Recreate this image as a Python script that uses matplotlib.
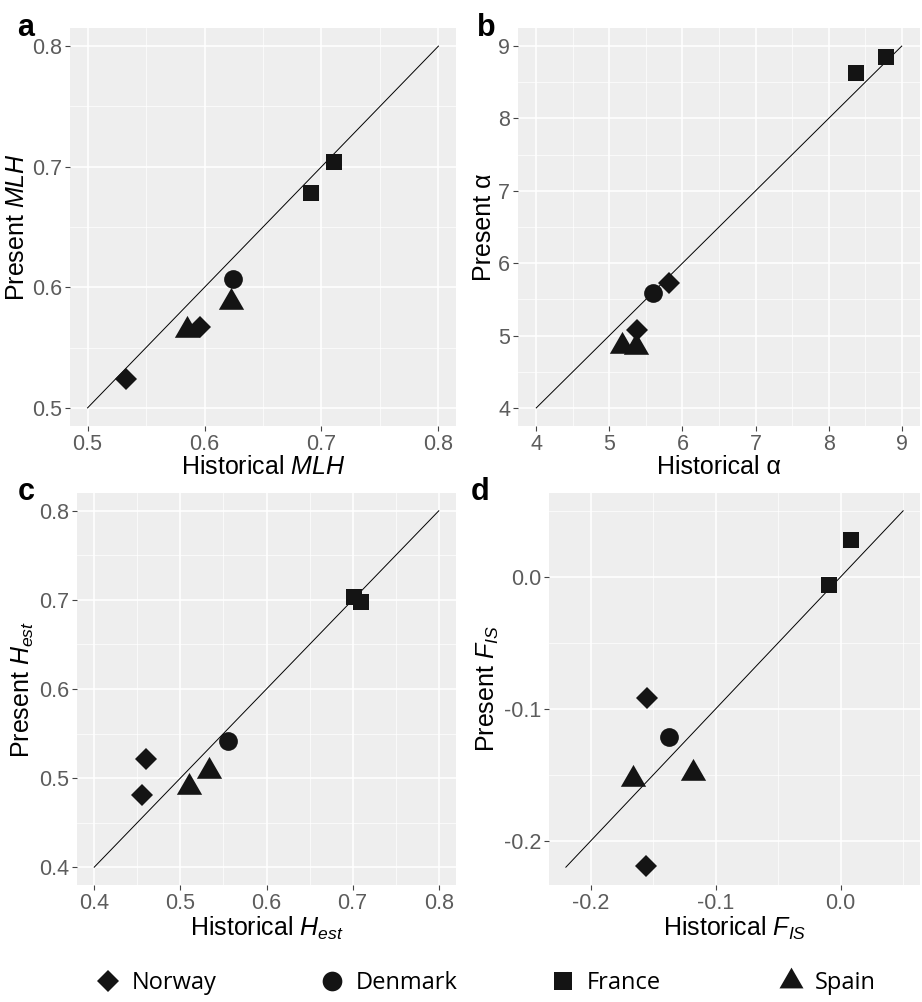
import matplotlib
matplotlib.use("Agg")
import matplotlib.pyplot as plt
from matplotlib.lines import Line2D
from matplotlib.path import Path
import numpy as np

plt.rcParams['font.family'] = ['Liberation Sans', 'DejaVu Sans']
plt.rcParams['mathtext.fontset'] = 'custom'
plt.rcParams['mathtext.rm'] = 'Liberation Sans'
plt.rcParams['mathtext.it'] = 'Liberation Sans:italic'
plt.rcParams['mathtext.bf'] = 'Liberation Sans:bold'

# ---------------- data ----------------
countries = ['Norway', 'Denmark', 'France', 'Spain']

mlh_country = ['Norway', 'Norway', 'Denmark', 'France', 'France', 'Spain', 'Spain']
mlh_hist = [0.533, 0.596, 0.624, 0.691, 0.7105, 0.585, 0.623]
mlh_pres = [0.524, 0.567, 0.607, 0.678, 0.7035, 0.565, 0.588]

alpha_country = ['Norway', 'Norway', 'Denmark', 'France', 'France', 'Spain', 'Spain']
alpha_hist = [5.81, 5.38, 5.595, 8.37, 8.79, 5.17, 5.37]
alpha_pres = [5.72, 5.07, 5.59, 8.63, 8.85, 4.86, 4.84]

hest_country = ['Norway', 'Norway', 'Denmark', 'France', 'France', 'Spain', 'Spain']
hest_hist = [0.460, 0.456, 0.555, 0.702, 0.710, 0.510, 0.533]
hest_pres = [0.521, 0.481, 0.542, 0.703, 0.698, 0.490, 0.508]

fis_country = ['Norway', 'Norway', 'Denmark', 'France', 'France', 'Spain', 'Spain']
fis_hist = [-0.155, -0.156, -0.1376, 0.0083, -0.0097, -0.1665, -0.118]
fis_pres = [-0.092, -0.219, -0.121, 0.028, -0.0063, -0.153, -0.1486]

# 1:1 reference segment ranges
mlh_range = [0.5, 0.8]
alpha_range = [4, 9]
hest_range = [0.4, 0.8]
fis_range = [-0.22, 0.05]

mlh_ticks = [0.5, 0.6, 0.7, 0.8]
alpha_ticks = [4, 5, 6, 7, 8, 9]
hest_ticks = [0.4, 0.5, 0.6, 0.7, 0.8]
fis_ticks = [-0.2, -0.1, 0.0]

# ---------------- styles ----------------
R0, R1, R2 = 1.5551, 1.3468, 0.7776
tri = Path([(0, R0), (R1, -R2), (-R1, -R2), (0, R0)],
           [Path.MOVETO, Path.LINETO, Path.LINETO, Path.CLOSEPOLY])
marker_style = {
    'Norway': dict(marker='D', ms=11.0),
    'Denmark': dict(marker='o', ms=13.5),
    'France': dict(marker='s', ms=12.0),
    'Spain': dict(marker=tri, ms=21.0),
}
PT_COL = '#141414'
BG = '#EEEEEE'

fig = plt.figure(figsize=(9.22, 10.02), dpi=100)
W, H = 922.0, 1002.0

def px_axes(l, t, r, b):
    return fig.add_axes([l / W, 1 - b / H, (r - l) / W, (b - t) / H])

def style_axes(ax, rng, ticks, fmt, xlabel, ylabel):
    lo, hi = rng
    pad = 0.05 * (hi - lo)
    ax.set_xlim(lo - pad, hi + pad)
    ax.set_ylim(lo - pad, hi + pad)
    ax.set_facecolor(BG)
    for s in ax.spines.values():
        s.set_visible(False)
    ax.set_xticks(ticks)
    ax.set_yticks(ticks)
    minors = [(a + b) / 2 for a, b in zip(ticks[:-1], ticks[1:])]
    step = ticks[1] - ticks[0]
    minors = [ticks[0] - step / 2] + minors + [ticks[-1] + step / 2]
    minors = [m for m in minors if lo - pad <= m <= hi + pad]
    ax.set_xticks(minors, minor=True)
    ax.set_yticks(minors, minor=True)
    ax.set_xticklabels([fmt(t) for t in ticks])
    ax.set_yticklabels([fmt(t) for t in ticks])
    ax.grid(True, which='major', color='white', lw=1.1)
    ax.grid(True, which='minor', color='white', lw=0.5)
    ax.set_axisbelow(True)
    ax.tick_params(which='major', length=3.5, width=0.8, color='#444444',
                   labelsize=15.5, labelcolor='#5c5c5c', pad=2.0)
    ax.tick_params(which='minor', length=0)
    ax.set_xlabel(xlabel, fontsize=18, labelpad=0.5)
    ax.set_ylabel(ylabel, fontsize=18, labelpad=2.0)
    ax.plot(rng, rng, color='black', lw=0.7, zorder=2)

def draw_points(ax, country, xs, ys):
    for c, x, y in zip(country, xs, ys):
        st = marker_style[c]
        ax.plot([x], [y], linestyle='none', marker=st['marker'], ms=st['ms'],
                color=PT_COL, markeredgewidth=0, zorder=3)

fmt1 = lambda t: f"{t:.1f}"
fmt0 = lambda t: f"{t:d}"

ax_a = px_axes(70, 28, 456, 426)
style_axes(ax_a, mlh_range, mlh_ticks, fmt1, r"Historical $\mathit{MLH}$", r"Present $\mathit{MLH}$")
draw_points(ax_a, mlh_country, mlh_hist, mlh_pres)

ax_b = px_axes(518, 28, 920, 426)
style_axes(ax_b, alpha_range, alpha_ticks, fmt0, "Historical α", "Present α")
draw_points(ax_b, alpha_country, alpha_hist, alpha_pres)

ax_c = px_axes(77, 493, 456, 885)
style_axes(ax_c, hest_range, hest_ticks, fmt1, r"Historical $H_{est}$", r"Present $H_{est}$")
draw_points(ax_c, hest_country, hest_hist, hest_pres)

ax_d = px_axes(549, 493, 920, 885)
style_axes(ax_d, fis_range, fis_ticks, fmt1, r"Historical $F_{IS}$", r"Present $F_{IS}$")
draw_points(ax_d, fis_country, fis_hist, fis_pres)

# panel letters
for lab, x, y in [('a', 17, 36), ('b', 477, 36), ('c', 18, 500), ('d', 471, 500)]:
    fig.text(x / W, 1 - y / H, lab, fontsize=22, fontweight='bold',
             ha='left', va='baseline')

# legend (one entry per country, evenly spaced)
leg_x = [96, 320, 551, 779]
for c, lx in zip(countries, leg_x):
    st = marker_style[c]
    h = Line2D([], [], linestyle='none', marker=st['marker'],
               ms=st['ms'] * (0.95 if c == 'Spain' else 1.05),
               color=PT_COL, markeredgewidth=0)
    fig.legend([h], [c], loc='center left', bbox_to_anchor=(lx / W, 1 - 983 / H),
               frameon=False, handlelength=1.0, handletextpad=0.5,
               borderpad=0, borderaxespad=0,
               prop={'family': ['Open Sans', 'DejaVu Sans'], 'size': 17})

fig.savefig('out.png', dpi=100)
